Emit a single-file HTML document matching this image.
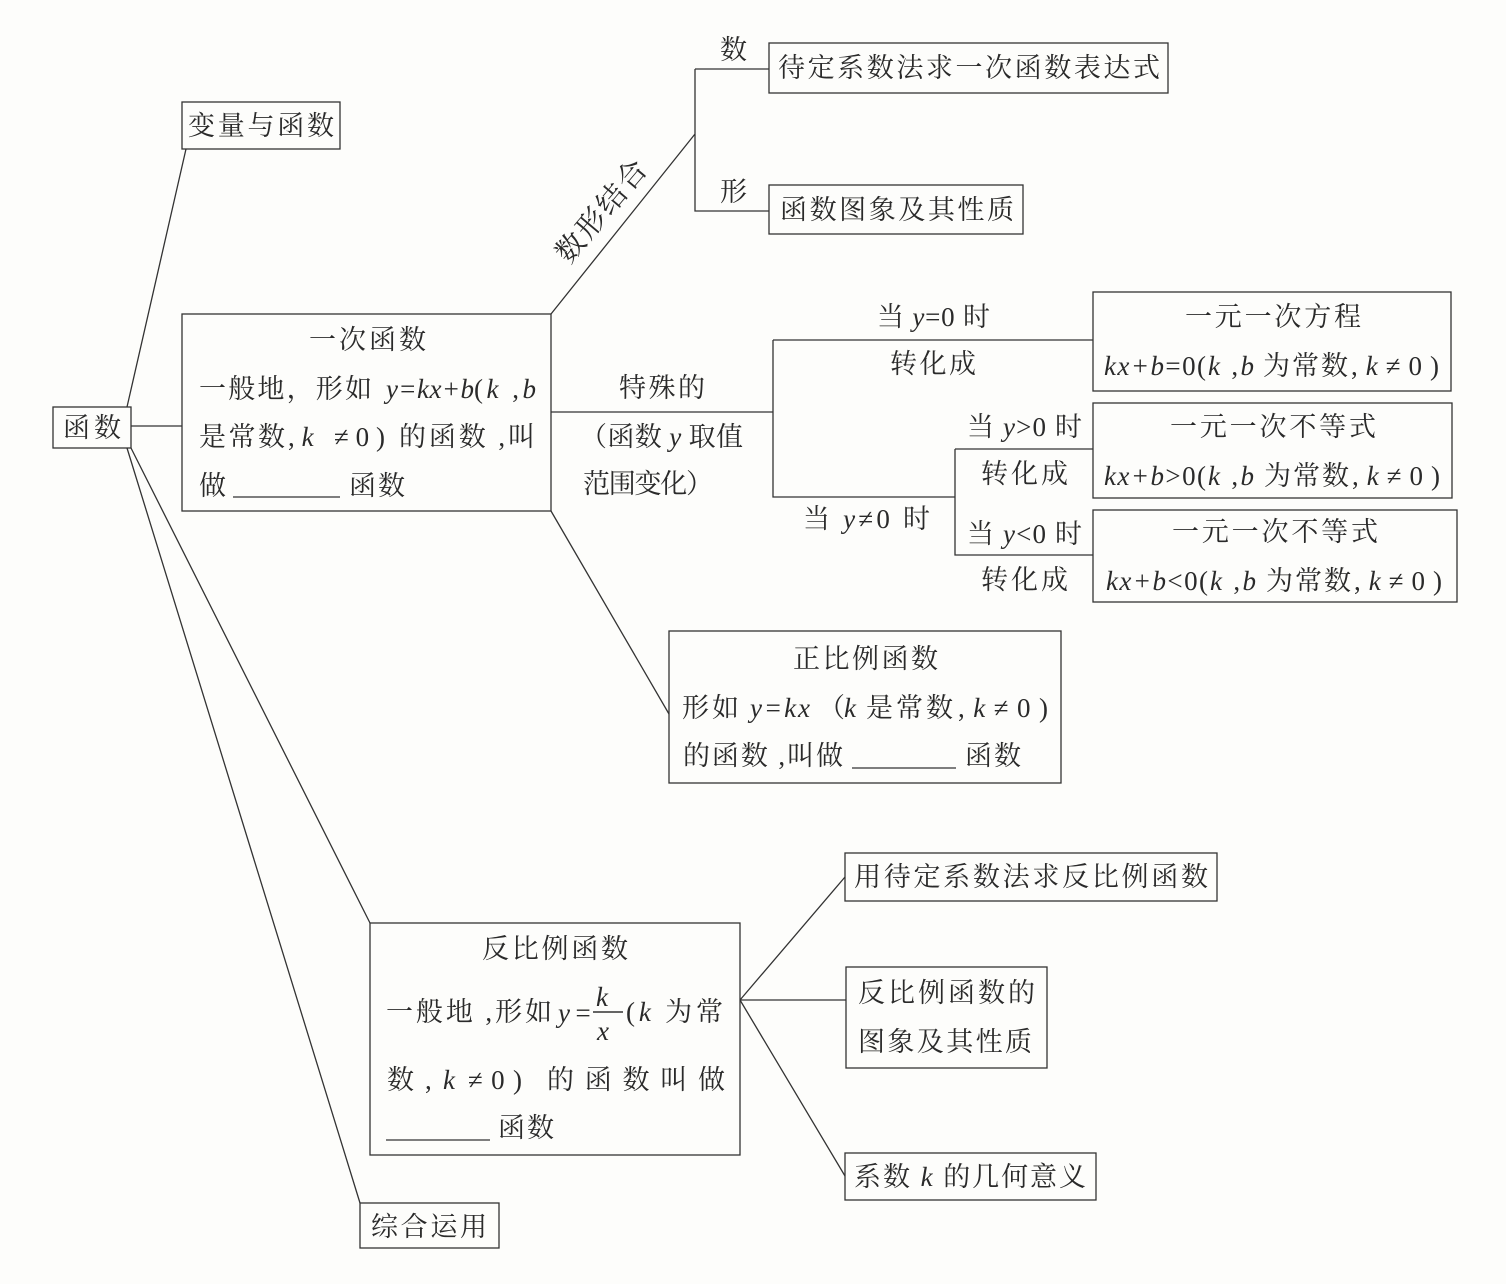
<!DOCTYPE html>
<html lang="zh"><head><meta charset="utf-8"><style>
html,body{margin:0;padding:0;background:#fdfdfb}
svg{display:block}
text{font-family:"Liberation Serif","Noto Serif CJK SC",serif;font-size:27px;fill:#2a2a2a}
.i{font-style:italic}
</style></head><body>
<svg width="1506" height="1284" viewBox="0 0 1506 1284" xmlns="http://www.w3.org/2000/svg">
<rect width="1506" height="1284" fill="#fdfdfb"/>
<g fill="none" stroke="#333" stroke-width="1.3">
<rect x="53" y="407" width="78" height="41"/>
<rect x="182" y="102" width="158" height="47"/>
<rect x="182" y="314" width="369" height="197"/>
<rect x="769" y="43" width="399" height="50"/>
<rect x="769" y="185" width="254" height="49"/>
<rect x="1093" y="292" width="358" height="99"/>
<rect x="1093" y="403" width="359" height="95"/>
<rect x="1093" y="510" width="364" height="92"/>
<rect x="669" y="631" width="392" height="152"/>
<rect x="370" y="923" width="370" height="232"/>
<rect x="845" y="853" width="372" height="48"/>
<rect x="846" y="967" width="201" height="101"/>
<rect x="845" y="1153" width="251" height="47"/>
<rect x="360" y="1203" width="139" height="45"/>
<path d="M131 426H182M127 407L186 149M131 448L370 923M127 448L360 1203"/>
<path d="M551 314L695 134M695 69H769M695 69V211H769"/>
<path d="M551 412H773M773 340H1093M773 340V497H955M955 449H1093M955 449V555H1093"/>
<path d="M551 511L669 714"/>
<path d="M740 1000L845 877M740 1000H846M740 1000L845 1176"/>
<path d="M233 497H340M852 768H956M386 1140H490"/>
<path d="M593 1012H623" stroke-width="1.6"/>
</g>
<text x="63" y="437" textLength="58">函数</text>
<text x="188" y="135" textLength="146">变量与函数</text>
<text x="720" y="59" textLength="27">数</text>
<text x="778" y="77" textLength="382">待定系数法求一次函数表达式</text>
<text x="720" y="201" textLength="27">形</text>
<text x="780" y="219" textLength="234">函数图象及其性质</text>
<text transform="translate(569 265) rotate(-50)" textLength="124" style="font-size:29px">数形结合</text>
<text x="309" y="349" textLength="117">一次函数</text>
<text x="199" y="398" textLength="173">一般地，形如</text>
<text x="386" y="398" class="i" textLength="88">y=kx+b</text>
<text x="474" y="398" textLength="62">(<tspan class="i">k</tspan> ,<tspan class="i">b</tspan></text>
<text x="199" y="446" textLength="86">是常数</text>
<text x="288" y="446" textLength="97">,<tspan class="i">k</tspan> ≠0)</text>
<text x="399" y="446" textLength="136">的函数 ,叫</text>
<text x="199" y="495" textLength="28">做</text>
<text x="349" y="495" textLength="56">函数</text>
<text x="619" y="397" textLength="86">特殊的</text>
<text x="580" y="446" textLength="163">（函数 <tspan class="i">y</tspan> 取值</text>
<text x="583" y="493" textLength="130">范围变化）</text>
<text x="877" y="326" textLength="113">当 <tspan class="i">y</tspan>=0 时</text>
<text x="890" y="373" textLength="86">转化成</text>
<text x="1185" y="326" textLength="176">一元一次方程</text>
<text x="1104" y="375" textLength="102"><tspan class="i">kx+b</tspan>=0(</text>
<text x="1208" y="375" textLength="46"><tspan class="i">k</tspan> ,<tspan class="i">b</tspan></text>
<text x="1263" y="375" textLength="85">为常数</text>
<text x="1351" y="375" textLength="88">,<tspan class="i">k</tspan>≠0)</text>
<text x="967" y="436" textLength="115">当 <tspan class="i">y</tspan>&gt;0 时</text>
<text x="981" y="483" textLength="87">转化成</text>
<text x="1170" y="436" textLength="206">一元一次不等式</text>
<text x="1104" y="485" textLength="102"><tspan class="i">kx+b</tspan>&gt;0(</text>
<text x="1208" y="485" textLength="46"><tspan class="i">k</tspan> ,<tspan class="i">b</tspan></text>
<text x="1264" y="485" textLength="85">为常数</text>
<text x="1352" y="485" textLength="88">,<tspan class="i">k</tspan>≠0)</text>
<text x="803" y="528" textLength="127">当 <tspan class="i">y</tspan>≠0 时</text>
<text x="967" y="543" textLength="115">当 <tspan class="i">y</tspan>&lt;0 时</text>
<text x="981" y="589" textLength="87">转化成</text>
<text x="1172" y="541" textLength="206">一元一次不等式</text>
<text x="1106" y="590" textLength="102"><tspan class="i">kx+b</tspan>&lt;0(</text>
<text x="1210" y="590" textLength="46"><tspan class="i">k</tspan> ,<tspan class="i">b</tspan></text>
<text x="1266" y="590" textLength="85">为常数</text>
<text x="1354" y="590" textLength="88">,<tspan class="i">k</tspan>≠0)</text>
<text x="793" y="668" textLength="145">正比例函数</text>
<text x="682" y="717" textLength="57">形如</text>
<text x="750" y="717" class="i" textLength="60">y=kx</text>
<text x="818" y="717" textLength="38">（<tspan class="i">k</tspan></text>
<text x="866" y="717" textLength="87">是常数</text>
<text x="958" y="717" textLength="90">,<tspan class="i">k</tspan>≠0)</text>
<text x="683" y="765" textLength="160">的函数 ,叫做</text>
<text x="965" y="765" textLength="56">函数</text>
<text x="482" y="958" textLength="146">反比例函数</text>
<text x="386" y="1021" textLength="166">一般地 ,形如</text>
<text x="558" y="1022" class="i" textLength="34">y=</text>
<text x="596" y="1006" class="i" textLength="15">k</text>
<text x="597" y="1040" class="i" textLength="13">x</text>
<text x="626" y="1021" textLength="97">(<tspan class="i">k</tspan> 为常</text>
<text x="387" y="1089" textLength="27">数</text>
<text x="425" y="1089" textLength="30">,<tspan class="i">k</tspan></text>
<text x="468" y="1089" textLength="54">≠0)</text>
<text x="547" y="1089" textLength="178">的函数叫做</text>
<text x="498" y="1137" textLength="56">函数</text>
<text x="854" y="886" textLength="354">用待定系数法求反比例函数</text>
<text x="858" y="1002" textLength="177">反比例函数的</text>
<text x="858" y="1051" textLength="174">图象及其性质</text>
<text x="854" y="1186" textLength="232">系数 <tspan class="i">k</tspan> 的几何意义</text>
<text x="371" y="1236" textLength="116">综合运用</text>
</svg>
</body></html>
